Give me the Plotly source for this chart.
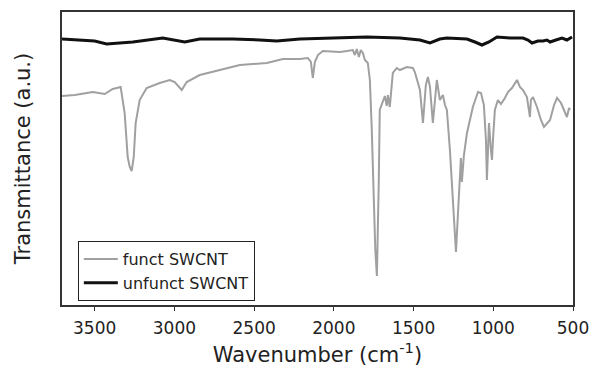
import plotly.graph_objects as go

# funct SWCNT (gray)
funct_wn = [3705, 3625, 3512, 3437, 3387, 3337, 3312, 3293, 3280, 3268, 3255, 3243, 3218, 3174, 3092,
            3029, 2998, 2954, 2923, 2841, 2715, 2590, 2420, 2320, 2213, 2163, 2144, 2132, 2119, 2100,
            2069, 1962, 1918, 1881, 1868, 1856, 1843, 1831, 1818, 1805, 1787, 1774, 1762, 1749, 1740,
            1730, 1724, 1718, 1712, 1692, 1680, 1668, 1661, 1649, 1630, 1605, 1586, 1542, 1504, 1492,
            1473, 1460, 1441, 1423, 1410, 1397, 1379, 1354, 1335, 1316, 1303, 1291, 1272, 1253, 1234,
            1222, 1209, 1203, 1197, 1184, 1165, 1128, 1096, 1077, 1059, 1046, 1040, 1033, 1027, 1015,
            1008, 1002, 990, 971, 952, 927, 908, 883, 851, 833, 814, 789, 776, 770, 764,
            751, 726, 701, 682, 644, 619, 600, 575, 550, 538, 525, 519]
funct_t = [209, 210, 213, 211, 216, 218, 192, 148, 138, 134, 148, 182, 205, 217, 222,
           225, 223, 215, 223, 230, 235, 240, 242, 246, 246, 247, 243, 227, 243, 250,
           254, 253, 254, 255, 250, 256, 248, 255, 252, 245, 242, 225, 175, 105, 55,
           29, 65, 125, 195, 205, 209, 199, 210, 198, 232, 237, 235, 238, 237, 233,
           223, 215, 182, 220, 228, 218, 182, 225, 205, 210, 200, 195, 155, 105, 53,
           90, 135, 147, 123, 150, 172, 198, 213, 212, 200, 165, 125, 165, 182, 155,
           145, 165, 195, 205, 201, 207, 213, 217, 225, 218, 215, 208, 193, 188, 205,
           208, 198, 185, 178, 185, 200, 207, 202, 193, 188, 197, 195]

# unfunct SWCNT (black)
unfunct_wn = [3705, 3575, 3500, 3425, 3343, 3261, 3073, 2998, 2935, 2841, 2634, 2464, 2358, 2213,
              2025, 1793, 1586, 1460, 1397, 1335, 1291, 1165, 1115, 1071, 1027, 977, 895, 814,
              782, 757, 720, 688, 663, 644, 607, 569, 538, 506]
unfunct_t = [266, 265, 264, 261, 262, 263, 267, 265, 263, 266, 266, 265, 264, 266,
             267, 268, 267, 265, 262, 266, 267, 266, 263, 260, 263, 268, 267, 267,
             265, 262, 264, 264, 265, 263, 265, 267, 265, 268]

x_ticks = [3500, 3000, 2500, 2000, 1500, 1000, 500]

fig = go.Figure()
fig.add_trace(go.Scatter(x=funct_wn, y=funct_t, mode="lines", name="funct SWCNT",
                         line=dict(color="#a0a0a0", width=2)))
fig.add_trace(go.Scatter(x=unfunct_wn, y=unfunct_t, mode="lines", name="unfunct SWCNT",
                         line=dict(color="#111111", width=3)))

font_family = "DejaVu Sans"
fig.update_layout(
    width=590, height=372,
    margin=dict(l=62, r=17, t=12, b=67, autoexpand=False),
    paper_bgcolor="white", plot_bgcolor="white",
    font=dict(family=font_family, color="#222222"),
    showlegend=True,
    legend=dict(x=0.031, y=0.218, xanchor="left", yanchor="top",
                bordercolor="#222222", borderwidth=1, bgcolor="white",
                font=dict(size=16, family=font_family, color="#222222"),
                tracegroupgap=0, itemwidth=34),
    xaxis=dict(range=[3705, 500], tickvals=x_ticks, ticktext=[str(v) for v in x_ticks],
               ticks="outside", ticklen=4, tickcolor="#333333", tickwidth=1,
               ticklabelstandoff=3, automargin=False,
               showline=True, linecolor="#333333", linewidth=1.5, mirror=True,
               showgrid=False, zeroline=False,
               tickfont=dict(size=17, family=font_family, color="#222222"),
               title=dict(text="Wavenumber (cm<sup>-1</sup>)",
                          font=dict(size=21, family=font_family, color="#222222"),
                          standoff=10)),
    yaxis=dict(range=[0, 293], showticklabels=False, ticks="", automargin=False,
               showline=True, linecolor="#333333", linewidth=1.5, mirror=True,
               showgrid=False, zeroline=False,
               title=dict(text="Transmittance (a.u.)",
                          font=dict(size=21, family=font_family, color="#222222"),
                          standoff=24)),
)

fig.write_html("out.html")
